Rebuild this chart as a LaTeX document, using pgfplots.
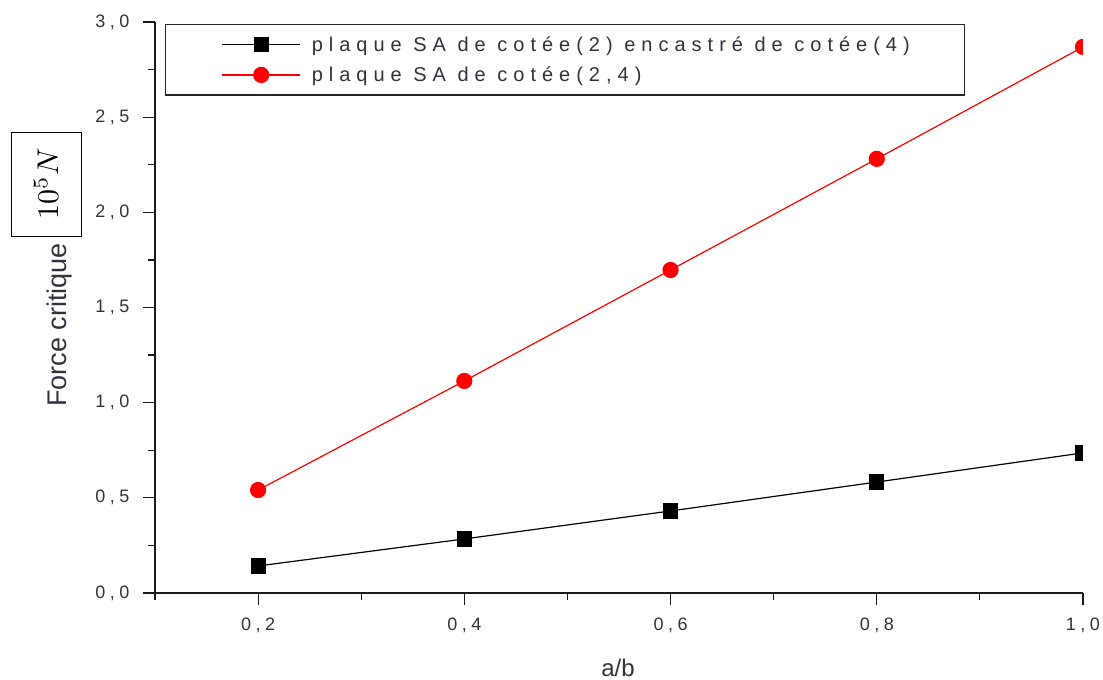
\documentclass[border=0pt]{standalone}
\usepackage{graphicx}
\usepackage{pgfplots}
\pgfplotsset{compat=1.18}
\usepackage{fontspec}
\setmainfont{Liberation Sans}
\newfontfamily\tickfont[LetterSpace=25]{Liberation Sans}
\newfontfamily\legfont[LetterSpace=30]{Liberation Sans}
\definecolor{ticktext}{RGB}{50,50,62}
\begin{document}
\begin{tikzpicture}
% page frame: axis box sits at (0,0)-(928pt,571pt)
\path[use as bounding box] (-155pt,-87pt) rectangle (948pt,593pt);
\begin{axis}[
  at={(0pt,0pt)}, anchor=south west,
  width=928pt, height=571pt, scale only axis,
  xmin=0.1, xmax=1.0, ymin=0, ymax=3,
  axis x line*=bottom, axis y line*=left,
  axis line style={line width=1.2pt, black!90},
  tick align=outside,
  major tick length=12pt, minor tick length=7pt,
  every tick/.style={black!90, line width=1.2pt},
  xtick={0.2,0.4,0.6,0.8,1.0}, minor xtick={0.1,0.3,0.5,0.7,0.9},
  ytick={0,0.5,1,1.5,2,2.5,3}, minor ytick={0.25,0.75,1.25,1.75,2.25,2.75},
  tick label style={font=\tickfont\fontsize{18pt}{21pt}\selectfont, text=ticktext},
  xticklabel style={yshift=-9pt},
  yticklabel style={xshift=-10pt},
  /pgf/number format/fixed, /pgf/number format/fixed zerofill,
  /pgf/number format/precision=1, /pgf/number format/use comma,
  /pgf/number format/assume math mode=true,
  clip mode=individual, clip marker paths=true,
  legend cell align=left,
  legend style={at={(10/928,569/571)}, anchor=north west,
    draw=black!85, line width=1.2pt,
    font=\legfont\fontsize{20pt}{23pt}\selectfont, text=ticktext,
    row sep=10pt, inner ysep=10pt},
  legend image code/.code={%
    \path (-53pt,0pt) (87pt,0pt);
    \draw[mark repeat=2, mark phase=2] plot coordinates {(0pt,0pt) (39pt,0pt) (78pt,0pt)};},
]
\addplot[black, line width=1.2pt, mark=square*, mark size=7pt]
  coordinates {(0.2,0.142) (0.4,0.284) (0.6,0.431) (0.8,0.583) (1.0,0.736)};
\addlegendentry{\makebox[648pt][l]{plaque SA de cotée(2) encastré de cotée(4)}}
\addplot[red, line width=1.2pt, mark=*, mark size=7.5pt, mark options={fill=red}]
  coordinates {(0.2,0.541) (0.4,1.114) (0.6,1.697) (0.8,2.281) (1.0,2.869)};
\addlegendentry{\makebox[648pt][l]{plaque SA de cotée(2,4)}}
\end{axis}
\node[rotate=90, font=\fontsize{27pt}{32pt}\selectfont, text=ticktext] at (-95pt,268pt) {Force critique};
\node[font=\fontsize{24pt}{28pt}\selectfont, text=ticktext] at (463pt,-75pt) {a/b};
\draw[line width=0.8pt, fill=white] (-144pt,357pt) rectangle (-74pt,461pt);
\node[rotate=90] at (-109pt,409pt) {\scalebox{3}{$10^5N$}};
\end{tikzpicture}
\end{document}
